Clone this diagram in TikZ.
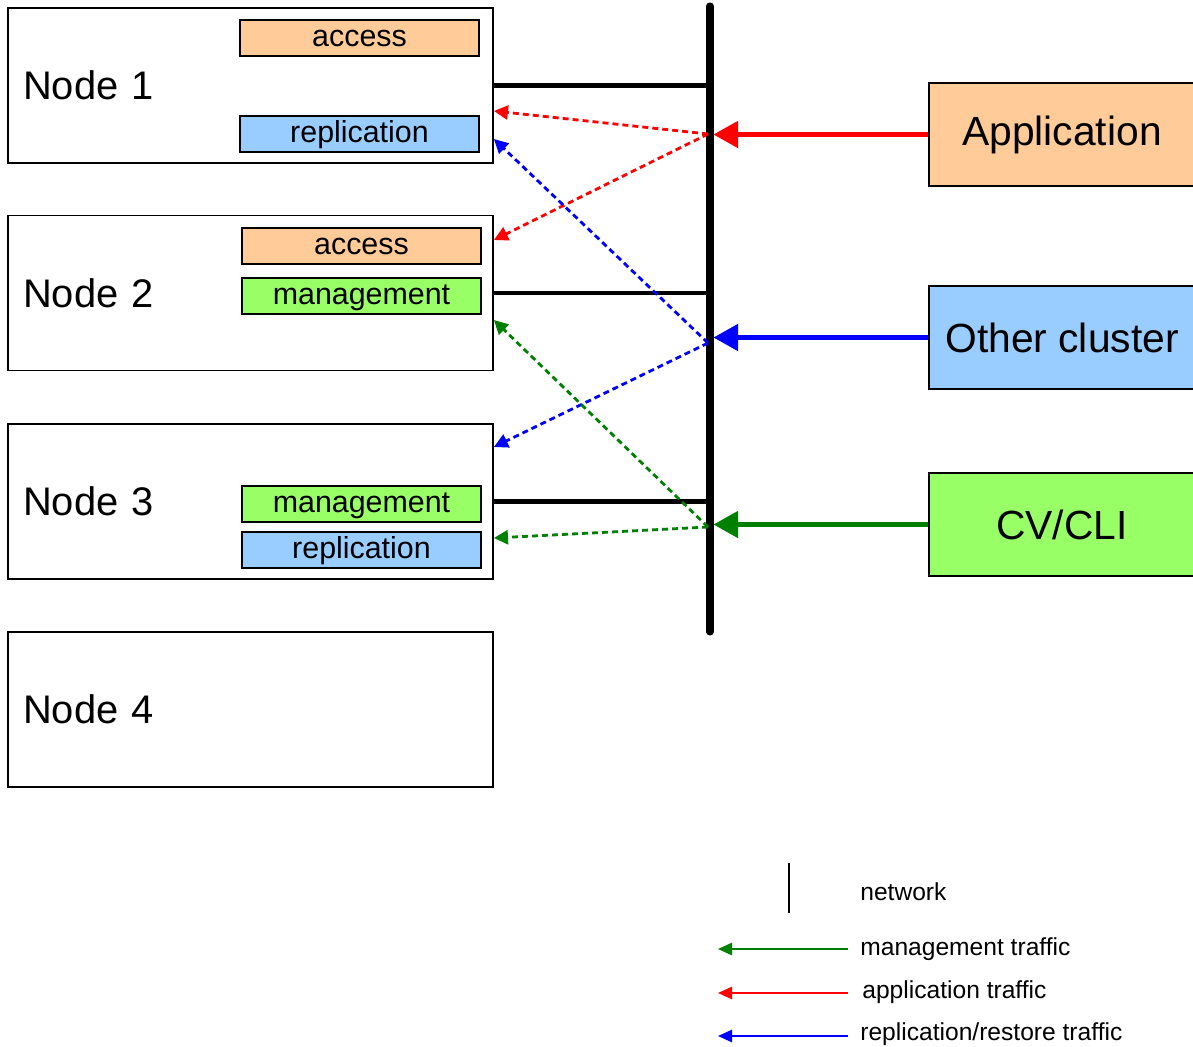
\documentclass[tikz,border=0pt]{standalone}
\usepackage{fontspec}
\setmainfont{Liberation Sans}
\usetikzlibrary{arrows.meta,calc,positioning}
\definecolor{accesscol}{HTML}{FFCC99}
\definecolor{replcol}{HTML}{99CCFF}
\definecolor{mgmtcol}{HTML}{99FF66}
\definecolor{mgmtline}{HTML}{008000}
\tikzstyle{nodebox} = [rectangle, draw=black, line width=1.1pt, minimum width=9.7cm, minimum height=3.1cm, text width=9.1cm, align=left, inner sep=0pt, font=\fontsize{22.7}{27}\selectfont]
\tikzstyle{role} = [rectangle, draw=black, line width=1.1pt, minimum width=4.78cm, minimum height=0.72cm, inner sep=0pt, text height=12.4pt, text depth=3.2pt, font=\fontsize{17.3}{20}\selectfont]
\tikzstyle{client} = [rectangle, draw=black, line width=1.1pt, minimum width=5.32cm, minimum height=2.06cm, inner sep=0pt, font=\fontsize{23.2}{27}\selectfont]
\tikzstyle{link} = [black, line width=2.3pt]
\tikzstyle{traffic} = [line width=2.3pt, -{Triangle[length=14pt,width=15pt]}, shorten >=2pt]
\tikzstyle{hop} = [line width=1.6pt, dash pattern=on 3.4pt off 2.3pt, -{Triangle[length=8pt,width=8pt]}]
\tikzstyle{legend} = [line width=1.1pt, -{Triangle[length=8pt,width=7pt]}]
\tikzstyle{legtext} = [anchor=west, inner sep=0pt, font=\fontsize{14}{16}\selectfont]

\begin{document}
\begin{tikzpicture}[x=0.02cm, y=-0.02cm]
    \useasboundingbox (0,0) rectangle (1193,1046);

    % cluster nodes
    \node[nodebox] (N1) at (250.5,85.5) {Node 1};
    \node[nodebox] (N2) at (250.5,293) {Node 2};
    \node[nodebox] (N3) at (250.5,501.5) {Node 3};
    \node[nodebox] (N4) at (250.5,709.5) {Node 4};

    % roles
    \node[role, fill=accesscol] (N1Acc) at (359.5,38) {access};
    \node[role, fill=replcol] (N1Rep) at (359.5,134) {replication};
    \node[role, fill=accesscol] (N2Acc) at (361.5,246) {access};
    \node[role, fill=mgmtcol] (N2Mgmt) at (361.5,296) {management};
    \node[role, fill=mgmtcol] (N3Mgmt) at (361.5,504) {management};
    \node[role, fill=replcol] (N3Rep) at (361.5,550) {replication};

    % clients
    \node[client, fill=accesscol] (App) at (1062,134.5) {Application};
    \node[client, fill=replcol] (Other) at (1062,337.5) {Other cluster};
    \node[client, fill=mgmtcol] (CV) at (1062,524.5) {CV/CLI};

    % network
    \coordinate (busTop) at (710,6);
    \coordinate (busBot) at (710,632);
    \draw[line width=4pt, line cap=round] (busTop) -- (busBot);
    \path
        [link, draw]
        (N1.east) -- (N1.east -| busTop)
        (N2.east) -- (N2.east -| busTop)
        (N3.east) -- (N3.east -| busTop);

    % incoming traffic
    \draw[traffic, red] (App.west) -- (App.west -| busTop);
    \draw[traffic, blue] (Other.west) -- (Other.west -| busTop);
    \draw[traffic, mgmtline] (CV.west) -- (CV.west -| busTop);

    % hops to the nodes
    \coordinate (appHub) at (708,134);
    \coordinate (repHub) at (708,343);
    \coordinate (mgmtHub) at (708,527);
    \draw[hop, red] (appHub) -- ($(N1.east)+(0,25.5)$);
    \draw[hop, red] (appHub) -- ($(N2.east)+(0,-53)$);
    \draw[hop, blue] (repHub) -- ($(N1.east)+(0,53.5)$);
    \draw[hop, blue] (repHub) -- ($(N3.east)+(0,-54.5)$);
    \draw[hop, mgmtline] (mgmtHub) -- ($(N2.east)+(0,27)$);
    \draw[hop, mgmtline] (mgmtHub) -- ($(N3.east)+(0,36.5)$);

    % legend
    \coordinate (netTop) at (789,863);
    \coordinate (netBot) at (789,913);
    \draw[line width=1.1pt] (netTop) -- (netBot);
    \node[legtext] (netText) at (860,892) {network};
    \node[legtext] (mgmtText) at (860,949) {management traffic};
    \node[legtext] (appText) at (862,992) {application traffic};
    \node[legtext] (repText) at (860,1034) {replication/restore traffic};
    \coordinate (mgmtTail) at (848,949);
    \coordinate (appTail) at (848,993);
    \coordinate (repTail) at (848,1036);
    \draw[legend, mgmtline] (mgmtTail) -- ++(-130,0);
    \draw[legend, red] (appTail) -- ++(-130,0);
    \draw[legend, blue] (repTail) -- ++(-130,0);
\end{tikzpicture}
\end{document}
